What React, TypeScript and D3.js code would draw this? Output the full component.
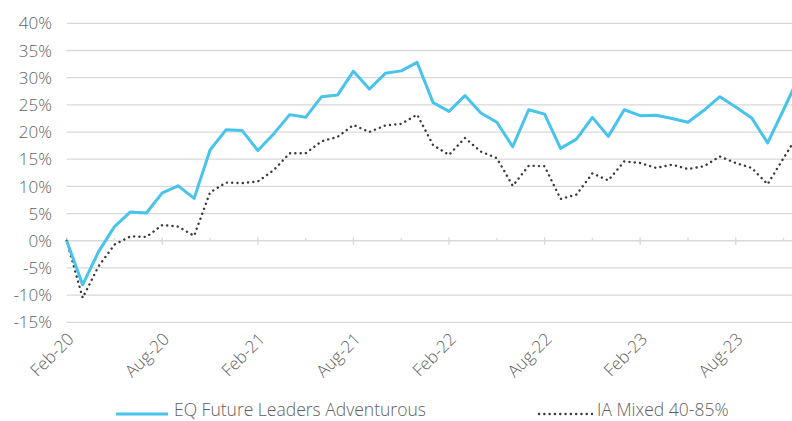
import React from 'react';
import { scaleLinear, line } from 'd3';

// monthly points, Feb-20 .. Dec-23 (last one sits just past the cropped edge)
const months = [
  'Feb-20', 'Mar-20', 'Apr-20', 'May-20', 'Jun-20', 'Jul-20', 'Aug-20', 'Sep-20', 'Oct-20', 'Nov-20', 'Dec-20', 'Jan-21',
  'Feb-21', 'Mar-21', 'Apr-21', 'May-21', 'Jun-21', 'Jul-21', 'Aug-21', 'Sep-21', 'Oct-21', 'Nov-21', 'Dec-21', 'Jan-22',
  'Feb-22', 'Mar-22', 'Apr-22', 'May-22', 'Jun-22', 'Jul-22', 'Aug-22', 'Sep-22', 'Oct-22', 'Nov-22', 'Dec-22', 'Jan-23',
  'Feb-23', 'Mar-23', 'Apr-23', 'May-23', 'Jun-23', 'Jul-23', 'Aug-23', 'Sep-23', 'Oct-23', 'Nov-23', 'Dec-23'
];

const eqFuture = [
  0, -8.1, -2.0, 2.6, 5.3, 5.1, 8.8, 10.1, 7.8, 16.7, 20.4, 20.3,
  16.6, 19.7, 23.2, 22.7, 26.5, 26.8, 31.2, 27.9, 30.8, 31.25, 32.8, 25.4,
  23.8, 26.7, 23.5, 21.8, 17.3, 24.1, 23.3, 17.0, 18.7, 22.7, 19.2, 24.1,
  23.0, 23.1, 22.5, 21.8, 24.0, 26.5, 24.6, 22.6, 18.0, 24.1, 30.4
];

const iaMixed = [
  0, -10.5, -4.7, -0.7, 0.8, 0.7, 2.9, 2.6, 0.9, 8.9, 10.7, 10.6,
  10.9, 13.0, 16.1, 16.1, 18.3, 19.1, 21.3, 20.0, 21.2, 21.5, 23.2, 17.6,
  15.8, 18.9, 16.4, 15.2, 10.1, 13.8, 13.7, 7.7, 8.5, 12.4, 11.1, 14.6,
  14.3, 13.4, 14.0, 13.2, 13.7, 15.5, 14.3, 13.4, 10.4, 15.2, 19.9
];

const yTicks = [40, 35, 30, 25, 20, 15, 10, 5, 0, -5, -10, -15];

const seriesNames = ['EQ Future Leaders Adventurous', 'IA Mixed 40-85%'];

const W = 792;
const H = 421;
const FONT = '"Open Sans", sans-serif';
const TEXT = '#5f5f5f';
const GRID = '#d9d9d9';
const BLUE = '#47c3ec';
const DOTS = '#3a3a3a';

const App = () => {
  const x = scaleLinear().domain([0, months.length - 1]).range([66.7, 66.7 + (months.length - 1) * 15.93]);
  const y = scaleLinear().domain([-15, 40]).range([322.3, 23.3]);

  const path = line<number>()
    .x((d, i) => x(i))
    .y(d => y(d));

  const y0 = y(0);

  return (
    <svg width={W} height={H} style={{ position: 'absolute', left: 0, top: 0, background: '#fff' }}>
      {/* gridlines + y labels */}
      {yTicks.map(t => (
        <g key={t}>
          <line x1={x(0)} x2={W} y1={y(t)} y2={y(t)} stroke={GRID} strokeWidth={1.3} />
          <text x={52} y={y(t)} dy="0.36em" textAnchor="end" fontFamily={FONT} fontWeight={300}
            fontSize={17} fill={TEXT}>
            {t}%
          </text>
        </g>
      ))}

      {/* tick marks on the zero line */}
      {months.map((m, i) => {
        if (i % 3 !== 0) return null;
        const major = i % 6 === 0;
        return (
          <line key={m} x1={x(i)} x2={x(i)} y1={major ? y0 - 3.5 : y0 - 3} y2={major ? y0 + 4 : y0}
            stroke={GRID} strokeWidth={1.3} />
        );
      })}

      {/* x labels, every 6 months */}
      {months.map((m, i) => i % 6 === 0 ? (
        <text key={m} transform={`translate(${x(i) + 4},${336}) rotate(-45)`} textAnchor="end"
          dy="0.35em" fontFamily={FONT} fontWeight={300} fontSize={17} fill={TEXT}>
          {m}
        </text>
      ) : null)}

      <path d={path(iaMixed) || ''} fill="none" stroke={DOTS} strokeWidth={2.4}
        strokeDasharray="0.1 5.2" strokeLinecap="round" />
      <path d={path(eqFuture) || ''} fill="none" stroke={BLUE} strokeWidth={3} strokeLinejoin="round" />

      {/* legend */}
      <line x1={116} x2={168} y1={414} y2={414} stroke={BLUE} strokeWidth={3} />
      <text x={174} y={415.5} fontFamily={FONT} fontWeight={300} fontSize={17.5} fill={TEXT}>{seriesNames[0]}</text>
      <line x1={539} x2={592} y1={414} y2={414} stroke={DOTS} strokeWidth={2.4}
        strokeDasharray="0.1 5.2" strokeLinecap="round" />
      <text x={597} y={415.5} fontFamily={FONT} fontWeight={300} fontSize={17.5} fill={TEXT}>{seriesNames[1]}</text>
    </svg>
  );
};

export default App;
